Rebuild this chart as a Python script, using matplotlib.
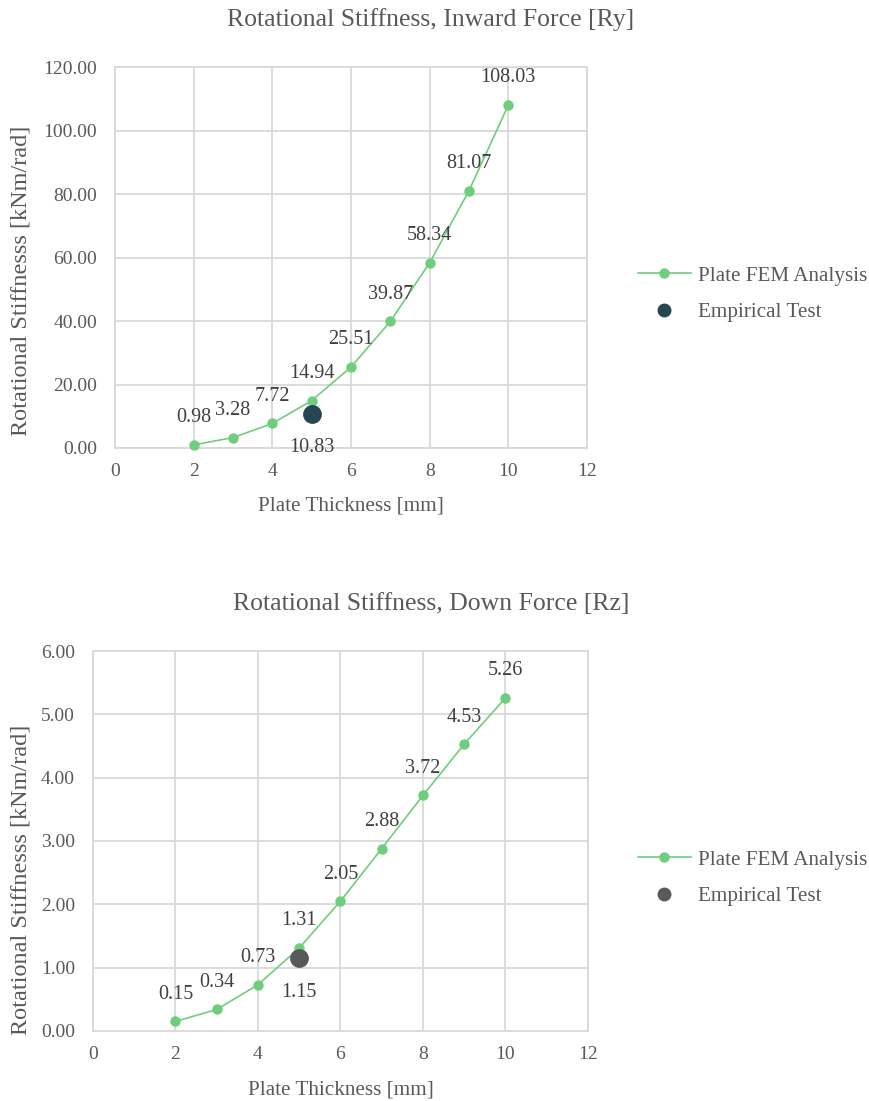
import matplotlib
matplotlib.use("Agg")
import matplotlib.pyplot as plt
from matplotlib.lines import Line2D

plt.rcParams['font.family'] = ['Liberation Serif', 'DejaVu Serif']

# Data
thickness = [2, 3, 4, 5, 6, 7, 8, 9, 10]
ry_fem = [0.98, 3.28, 7.72, 14.94, 25.51, 39.87, 58.34, 81.07, 108.03]
rz_fem = [0.15, 0.34, 0.73, 1.31, 2.05, 2.88, 3.72, 4.53, 5.26]
test_thickness = [5]
ry_test = [10.83]
rz_test = [1.15]

titles = ["Rotational Stiffness, Inward Force [Ry]",
          "Rotational Stiffness, Down Force [Rz]"]
x_label = "Plate Thickness [mm]"
y_label = "Rotational Stiffnesss [kNm/rad]"
legend_labels = ["Plate FEM Analysis", "Empirical Test"]

GREEN = "#6fcd7e"
GRID = "#d9d9d9"
TEXT = "#595959"
LABEL = "#404040"

W, H = 869, 1101
fig = plt.figure(figsize=(W / 100, H / 100), dpi=100)
ax1 = fig.add_axes([0.1323, 0.5931, 0.5432, 0.3460])
ax2 = fig.add_axes([0.1070, 0.0636, 0.5696, 0.3451])


def draw(ax, fem, test, test_color, ymax, ystep, title, title_y,
         ylab_pos, xlab_y, legend_y):
    ax.plot(thickness, fem, color=GREEN, lw=1.2, marker='o', ms=6.5,
            zorder=3, clip_on=False)
    ax.plot(test_thickness, test, linestyle='none', marker='o', ms=12.5,
            color=test_color, zorder=4, clip_on=False)
    for x, y in zip(thickness, fem):
        ax.annotate(f"{y:.2f}", (x, y), xytext=(0, 19.5), textcoords='offset points',
                    ha='center', va='center', fontsize=14.5, color=LABEL)
    for x, y in zip(test_thickness, test):
        ax.annotate(f"{y:.2f}", (x, y), xytext=(0, -24.5), textcoords='offset points',
                    ha='center', va='center', fontsize=14.5, color=LABEL)
    ax.set_xlim(0, 12)
    ax.set_ylim(0, ymax)
    ax.set_xticks(range(0, 13, 2))
    n = int(round(ymax / ystep))
    yt = [i * ystep for i in range(n + 1)]
    ax.set_yticks(yt)
    ax.set_yticklabels([f"{v:.2f}" for v in yt])
    ax.grid(True, color=GRID, lw=1.3)
    ax.set_axisbelow(True)
    for s in ax.spines.values():
        s.set_color(GRID)
        s.set_linewidth(1.3)
    ax.tick_params(length=0, labelsize=14, labelcolor=TEXT)
    ax.tick_params(axis='x', pad=11)
    ax.tick_params(axis='y', pad=13)
    ax.set_xlabel(x_label, fontsize=15.2, color=TEXT, va='center')
    ax.xaxis.set_label_coords(0.5, xlab_y)
    ax.set_ylabel(y_label, fontsize=17.5, color=TEXT, va='center')
    ax.yaxis.set_label_coords(*ylab_pos)
    fig.text(431 / W, title_y, title, fontsize=18.5, color=TEXT,
             ha='center', va='center')
    handles = [Line2D([], [], color=GREEN, lw=1.2, marker='o', ms=6.5),
               Line2D([], [], linestyle='none', marker='o', ms=9, color=test_color)]
    fig.legend(handles, legend_labels, loc='center left',
               bbox_to_anchor=(638 / W, legend_y), frameon=False, fontsize=15.2,
               labelcolor=TEXT, handlelength=2.5, handletextpad=0.33,
               labelspacing=0.8, borderpad=0, borderaxespad=0)


draw(ax1, ry_fem, ry_test, "#264653", 120, 20, titles[0], 1 - 20 / H,
     (-0.2, 0.44), -0.152, 1 - 294 / H)
draw(ax2, rz_fem, rz_test, "#595959", 6, 1, titles[1], 1 - 604 / H,
     (-0.146, 0.397), -0.155, 1 - 878 / H)

fig.savefig("out.png", dpi=100, facecolor='white')
